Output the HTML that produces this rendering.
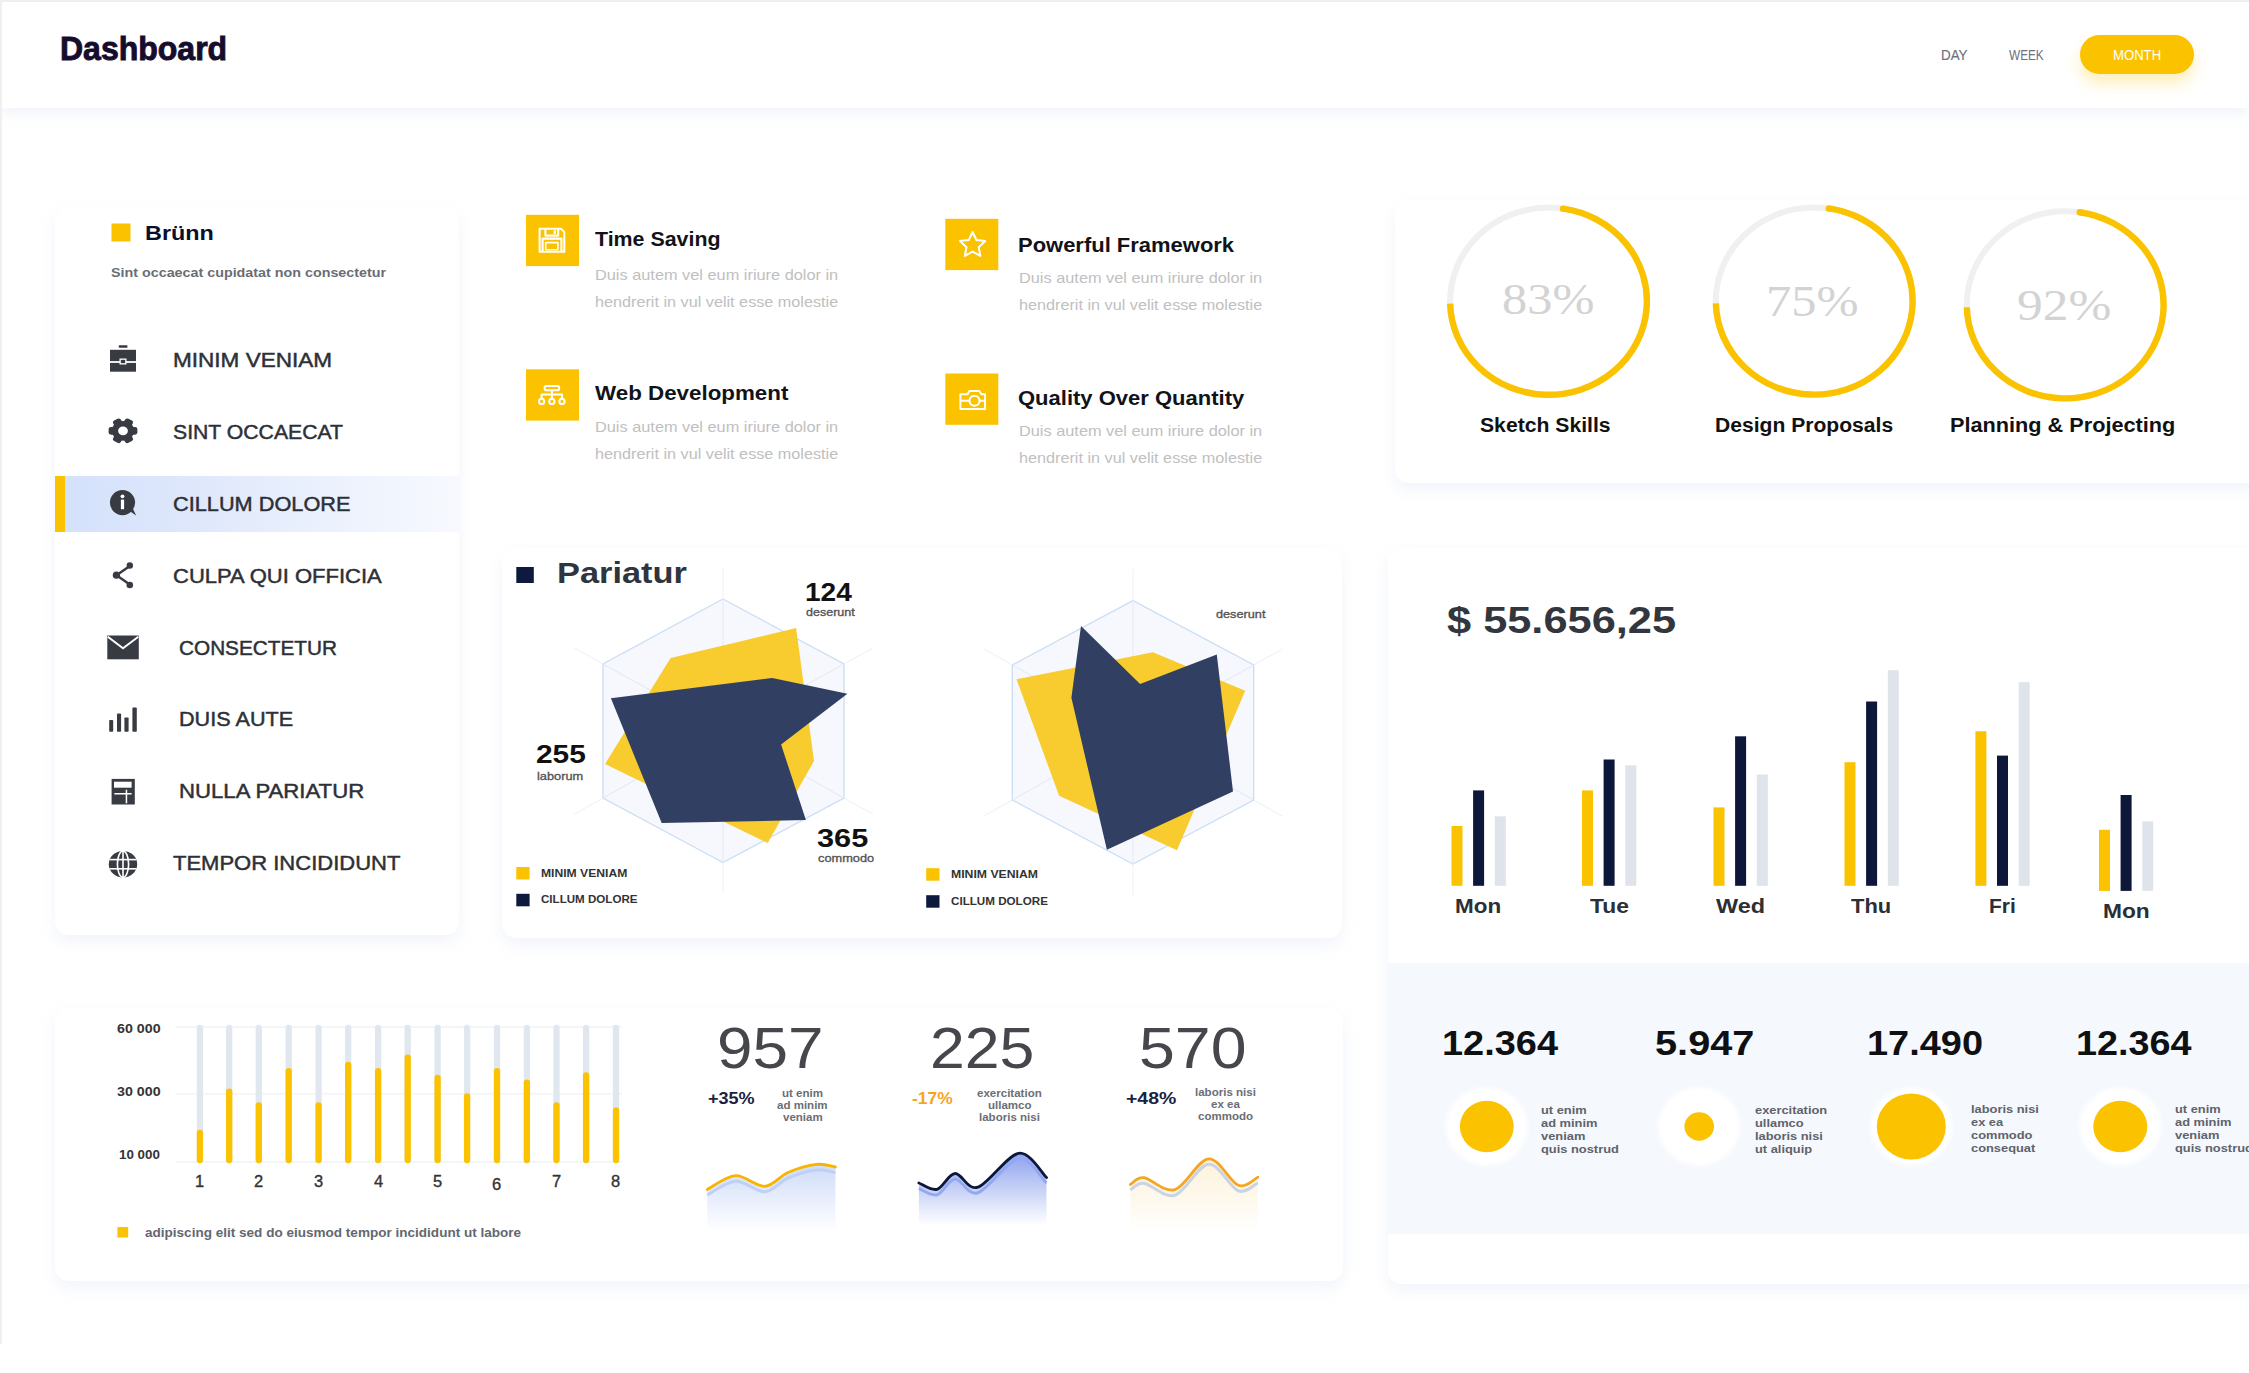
<!DOCTYPE html>
<html><head><meta charset="utf-8"><title>Dashboard</title>
<style>
html,body{margin:0;padding:0;background:#fff;width:2249px;height:1373px;overflow:hidden;position:relative}
.t{position:absolute;white-space:nowrap;line-height:1.15;transform-origin:0 0}
.card{position:absolute;background:#fff}
</style></head><body>

<div style="position:absolute;left:0;top:0;width:2249px;height:108px;background:#fff;box-shadow:0 5px 12px rgba(215,220,238,0.35)"></div>
<div style="position:absolute;left:0;top:0;width:2249px;height:2px;background:#eeeeee"></div>
<div style="position:absolute;left:0;top:0;width:2px;height:1344px;background:#f0f0f0"></div>
<div style="position:absolute;left:2080px;top:34.5px;width:114px;height:39px;border-radius:20px;background:#fbc200;box-shadow:0 9px 16px rgba(251,194,0,0.28)"></div>
<div class="card" style="left:55px;top:207px;width:404px;height:728px;border-radius:14px;box-shadow:0 7px 16px rgba(205,212,240,0.26)"></div>
<div style="position:absolute;left:55px;top:476px;width:405px;height:56px;background:linear-gradient(90deg,#d3e1fb 0%,#dfe8fb 35%,#eef3fd 75%,#f7f9fe 100%)"></div>
<div style="position:absolute;left:55px;top:476px;width:10px;height:56px;background:#fbc200"></div>
<div class="card" style="left:1395px;top:200px;width:900px;height:283px;border-radius:14px;box-shadow:0 7px 16px rgba(205,212,240,0.26)"></div>
<div class="card" style="left:502px;top:548px;width:840px;height:390px;border-radius:14px;box-shadow:0 7px 16px rgba(205,212,240,0.26)"></div>
<div class="card" style="left:1388px;top:548px;width:900px;height:736px;border-radius:14px;box-shadow:0 7px 16px rgba(205,212,240,0.26);overflow:hidden"><div style="position:absolute;left:0;top:415px;width:900px;height:271px;background:#f5f8fd"></div></div>
<div class="card" style="left:55px;top:1008px;width:1288px;height:273px;border-radius:14px;box-shadow:0 7px 16px rgba(205,212,240,0.26)"></div>

<svg width="2249" height="1373" style="position:absolute;left:0;top:0"><defs><linearGradient id="g1" x1="0" y1="0" x2="0" y2="1"><stop offset="0" stop-color="#c9d8f8" stop-opacity="0.9"/><stop offset="1" stop-color="#c9d8f8" stop-opacity="0"/></linearGradient><linearGradient id="g2" x1="0" y1="0" x2="0" y2="1"><stop offset="0" stop-color="#8ea2ee" stop-opacity="1"/><stop offset="1" stop-color="#8ea2ee" stop-opacity="0"/></linearGradient><linearGradient id="g3" x1="0" y1="0" x2="0" y2="1"><stop offset="0" stop-color="#fdf0d5" stop-opacity="0.9"/><stop offset="1" stop-color="#fdf0d5" stop-opacity="0"/></linearGradient><radialGradient id="halo"><stop offset="0.86" stop-color="#ffffff" stop-opacity="1"/><stop offset="1" stop-color="#ffffff" stop-opacity="0"/></radialGradient></defs><rect x="111.5" y="223.5" width="19" height="18" fill="#fbc200"/><g fill="#383b42"><rect x="118.7" y="345.2" width="8.8" height="2.6" rx="0.8"/><rect x="110" y="349.8" width="26" height="11.3"/><rect x="110" y="362.9" width="26" height="8.8"/><rect x="119.5" y="358.5" width="7" height="6" fill="#fff"/><rect x="120.8" y="359.8" width="4.4" height="3.4"/></g><g transform="translate(123 430.8) scale(1.09 0.97)"><g fill="#383b42"><circle cx="0" cy="0" r="10.2"/><rect x="-4" y="-13.2" width="8" height="26.4" rx="2.2" transform="rotate(30)"/><rect x="-4" y="-13.2" width="8" height="26.4" rx="2.2" transform="rotate(90)"/><rect x="-4" y="-13.2" width="8" height="26.4" rx="2.2" transform="rotate(150)"/></g><circle cx="0" cy="0" r="4.5" fill="#fff"/></g><g fill="#383b42"><circle cx="122.5" cy="502.6" r="12.6"/><path d="M128 510 L136.2 515.4 L131 505 Z"/></g><g fill="#fff"><circle cx="122.5" cy="496.3" r="1.9"/><rect x="120.9" y="499.6" width="3.2" height="9.6"/></g><g fill="#383b42" stroke="#383b42" stroke-width="2.4"><line x1="116.5" y1="575.2" x2="129.8" y2="566"/><line x1="116.5" y1="575.2" x2="129.8" y2="584.6"/><circle cx="129.8" cy="565.5" r="3.2" stroke="none"/><circle cx="116.4" cy="575.2" r="3.6" stroke="none"/><circle cx="129.8" cy="585" r="3.3" stroke="none"/></g><rect x="107.3" y="635.5" width="31.5" height="23.8" fill="#383b42"/><path d="M107.8 636.8 L123 648.2 L138.3 636.8" fill="none" stroke="#fff" stroke-width="2"/><g fill="#383b42"><rect x="109.2" y="720" width="4" height="11.8" rx="0.8"/><rect x="117" y="713.6" width="4.1" height="18.2" rx="0.8"/><rect x="124.4" y="717.5" width="4.2" height="14.3" rx="0.8"/><rect x="132.4" y="707.6" width="4.4" height="24.2" rx="0.8"/></g><rect x="111.6" y="778.9" width="23.2" height="25.6" fill="#383b42"/><rect x="114" y="781.7" width="17.6" height="6" fill="#fff"/><rect x="114.4" y="793" width="17.2" height="1.5" fill="#fff"/><rect x="125.7" y="789.7" width="1.5" height="13.6" fill="#fff"/><ellipse cx="123" cy="864.2" rx="14.2" ry="13.2" fill="#383b42"/><g fill="none" stroke="#fff" stroke-width="1.6"><ellipse cx="123" cy="864.2" rx="5.6" ry="13.2"/><line x1="123" y1="851" x2="123" y2="877.4"/><line x1="109.5" y1="859.6" x2="136.5" y2="859.6"/><line x1="109.5" y1="868.8" x2="136.5" y2="868.8"/></g><rect x="526" y="214.8" width="53" height="51.3" fill="#fbc200"/><rect x="945.3" y="218.8" width="53" height="51.3" fill="#fbc200"/><rect x="526" y="369.3" width="53" height="51.3" fill="#fbc200"/><rect x="945.3" y="373.5" width="53" height="51.3" fill="#fbc200"/><g fill="none" stroke="#ffffff" stroke-width="2.1" stroke-linejoin="round"><path d="M539.6 228.8 H561 L564.3 232.1 V251.8 H539.6 Z"/><path d="M542.6 251.6 V238.6 H561.4 V251.6"/><rect x="545.7" y="242.6" width="12.2" height="7.2" stroke-width="1.6"/><path d="M545.4 229 V235.6 H558.2 V229"/></g><rect x="553.6" y="230.4" width="2.4" height="3.6" fill="#ffffff"/><g fill="none" stroke="#ffffff" stroke-width="2" stroke-linejoin="round"><rect x="544.6" y="386" width="14.6" height="4.2" rx="1.8"/><path d="M551.9 390.2 V394.6 M541.6 398.4 V394.6 H562 V398.4 M551.9 394.6 V398.4"/><circle cx="541.6" cy="401.4" r="2.6"/><circle cx="551.9" cy="401.4" r="2.6"/><circle cx="562" cy="401.4" r="2.6"/></g><polygon points="972.6,232.0 976.4,240.0 985.2,241.1 978.7,247.2 980.4,255.9 972.6,251.6 964.8,255.9 966.5,247.2 960.0,241.1 968.8,240.0" fill="none" stroke="#ffffff" stroke-width="2" stroke-linejoin="round"/><g fill="none" stroke="#ffffff" stroke-width="2" stroke-linejoin="round"><path d="M960.4 394.2 H967.6 L969.4 391 H979.4 L981.4 394.2 H985 V409 H960.4 Z"/><circle cx="974.5" cy="400.8" r="5"/><path d="M960.4 400.8 H969.5 M979.5 400.8 H985"/></g><ellipse cx="1548.5" cy="301.2" rx="98.4" ry="93.6" fill="none" stroke="#f0f0f0" stroke-width="6"/><path d="M1563.04 208.63 A98.4 93.6 0 1 1 1450.13 303.65" fill="none" stroke="#fbc200" stroke-width="6.4" stroke-linecap="butt"/><circle cx="1563.04" cy="208.63" r="3.2" fill="#fbc200"/><ellipse cx="1814.2" cy="301" rx="98.4" ry="93.6" fill="none" stroke="#f0f0f0" stroke-width="6"/><path d="M1828.74 208.43 A98.4 93.6 0 1 1 1715.83 303.45" fill="none" stroke="#fbc200" stroke-width="6.4" stroke-linecap="butt"/><circle cx="1828.74" cy="208.43" r="3.2" fill="#fbc200"/><ellipse cx="2065.2" cy="304.8" rx="98.4" ry="93.6" fill="none" stroke="#f0f0f0" stroke-width="6"/><path d="M2079.74 212.23 A98.4 93.6 0 1 1 1966.83 307.25" fill="none" stroke="#fbc200" stroke-width="6.4" stroke-linecap="butt"/><circle cx="2079.74" cy="212.23" r="3.2" fill="#fbc200"/><g stroke="#f0f3f8" stroke-width="1.2"><line x1="723" y1="730.6" x2="723.0" y2="567.4"/><line x1="723" y1="730.6" x2="873.0" y2="648.0"/><line x1="723" y1="730.6" x2="873.0" y2="814.2"/><line x1="723" y1="730.6" x2="723.0" y2="894.2"/><line x1="723" y1="730.6" x2="574.2" y2="814.2"/><line x1="723" y1="730.6" x2="574.2" y2="648.0"/></g><polygon points="723,599 844,664 844,798 723,862.5 603,798 603,664" fill="#f6f8fd" stroke="#cddff6" stroke-width="1.4"/><polygon points="723,658.22 789.55,693.97 789.55,767.6700000000001 723,803.145 657.0,767.6700000000001 657.0,693.97" fill="none" stroke="#dce8f8" stroke-width="1.2"/><g stroke="#e3ebf7" stroke-width="1.1"><line x1="723" y1="730.6" x2="723" y2="599"/><line x1="723" y1="730.6" x2="844" y2="664"/><line x1="723" y1="730.6" x2="844" y2="798"/><line x1="723" y1="730.6" x2="723" y2="862.5"/><line x1="723" y1="730.6" x2="603" y2="798"/><line x1="723" y1="730.6" x2="603" y2="664"/></g><polygon points="670.6,657.9 796.1,628.1 814,761 767.7,843.1 605,764" fill="#f8cb2e"/><polygon points="610.9,698.3 772.2,677.9 847.4,693.8 781.1,744.5 805.9,820.1 661.7,823.1" fill="#313f63"/><rect x="516.3" y="567" width="17.5" height="16" fill="#0e1a3d"/><g stroke="#f0f3f8" stroke-width="1.2"><line x1="1133" y1="732.3" x2="1133.0" y2="569.0"/><line x1="1133" y1="732.3" x2="1282.7" y2="648.8"/><line x1="1133" y1="732.3" x2="1282.7" y2="816.2"/><line x1="1133" y1="732.3" x2="1133.0" y2="895.6"/><line x1="1133" y1="732.3" x2="983.3" y2="816.2"/><line x1="1133" y1="732.3" x2="983.3" y2="648.8"/></g><polygon points="1133,600.6 1253.7,665 1253.7,800 1133,864 1012.3,800 1012.3,665" fill="#f6f8fd" stroke="#cddff6" stroke-width="1.4"/><polygon points="1133,659.865 1199.385,695.285 1199.385,769.535 1133,804.735 1066.615,769.535 1066.615,695.285" fill="none" stroke="#dce8f8" stroke-width="1.2"/><g stroke="#e3ebf7" stroke-width="1.1"><line x1="1133" y1="732.3" x2="1133" y2="600.6"/><line x1="1133" y1="732.3" x2="1253.7" y2="665"/><line x1="1133" y1="732.3" x2="1253.7" y2="800"/><line x1="1133" y1="732.3" x2="1133" y2="864"/><line x1="1133" y1="732.3" x2="1012.3" y2="800"/><line x1="1133" y1="732.3" x2="1012.3" y2="665"/></g><polygon points="1016.5,679.3 1152.9,652.3 1245.2,690.7 1177,850.3 1059.1,795.8" fill="#f8cb2e"/><polygon points="1081,625.9 1140.1,684.1 1216.8,654.6 1233,791.5 1106.9,849.8 1071.4,697.8" fill="#313f63"/><rect x="516.3" y="867" width="13.3" height="12.5" fill="#fbc200"/><rect x="516.3" y="893.8" width="13.3" height="12.5" fill="#0e1a3d"/><rect x="926.2" y="868.2" width="13.3" height="12.5" fill="#fbc200"/><rect x="926.2" y="895.2" width="13.3" height="12.5" fill="#0e1a3d"/><rect x="1451.5" y="826" width="11" height="59.8" fill="#fbc200"/><rect x="1473.1" y="790.4" width="11" height="95.4" fill="#0d1739"/><rect x="1494.8" y="816.3" width="11" height="69.5" fill="#dfe4eb"/><rect x="1582" y="790.4" width="11" height="95.4" fill="#fbc200"/><rect x="1603.6" y="759.5" width="11" height="126.3" fill="#0d1739"/><rect x="1625.3" y="765.3" width="11" height="120.5" fill="#dfe4eb"/><rect x="1713.5" y="807.4" width="11" height="78.4" fill="#fbc200"/><rect x="1735.1" y="736.3" width="11" height="149.5" fill="#0d1739"/><rect x="1756.8" y="774.5" width="11" height="111.3" fill="#dfe4eb"/><rect x="1844.5" y="762.2" width="11" height="123.6" fill="#fbc200"/><rect x="1866.1" y="701.5" width="11" height="184.3" fill="#0d1739"/><rect x="1887.8" y="670.2" width="11" height="215.6" fill="#dfe4eb"/><rect x="1975.4" y="731.3" width="11" height="154.5" fill="#fbc200"/><rect x="1997.0" y="755.6" width="11" height="130.2" fill="#0d1739"/><rect x="2018.7" y="682.2" width="11" height="203.6" fill="#dfe4eb"/><rect x="2099" y="829.8" width="11" height="61.1" fill="#fbc200"/><rect x="2120.6" y="795" width="11" height="95.9" fill="#0d1739"/><rect x="2142.3" y="821.3" width="11" height="69.6" fill="#dfe4eb"/><g stroke="#eef2f8" stroke-width="1.3"><line x1="176" y1="1027" x2="622" y2="1027"/><line x1="176" y1="1093.8" x2="622" y2="1093.8"/><line x1="176" y1="1162" x2="622" y2="1162"/></g><line x1="199.9" y1="1028" x2="199.9" y2="1160" stroke="#e1e7ee" stroke-width="6.3" stroke-linecap="round"/><line x1="199.9" y1="1133" x2="199.9" y2="1160" stroke="#fbc200" stroke-width="6.3" stroke-linecap="round"/><line x1="229.2" y1="1028" x2="229.2" y2="1160" stroke="#e1e7ee" stroke-width="6.3" stroke-linecap="round"/><line x1="229.2" y1="1091.7" x2="229.2" y2="1160" stroke="#fbc200" stroke-width="6.3" stroke-linecap="round"/><line x1="258.8" y1="1028" x2="258.8" y2="1160" stroke="#e1e7ee" stroke-width="6.3" stroke-linecap="round"/><line x1="258.8" y1="1105.4" x2="258.8" y2="1160" stroke="#fbc200" stroke-width="6.3" stroke-linecap="round"/><line x1="288.7" y1="1028" x2="288.7" y2="1160" stroke="#e1e7ee" stroke-width="6.3" stroke-linecap="round"/><line x1="288.7" y1="1071.2" x2="288.7" y2="1160" stroke="#fbc200" stroke-width="6.3" stroke-linecap="round"/><line x1="318.6" y1="1028" x2="318.6" y2="1160" stroke="#e1e7ee" stroke-width="6.3" stroke-linecap="round"/><line x1="318.6" y1="1105.4" x2="318.6" y2="1160" stroke="#fbc200" stroke-width="6.3" stroke-linecap="round"/><line x1="348.2" y1="1028" x2="348.2" y2="1160" stroke="#e1e7ee" stroke-width="6.3" stroke-linecap="round"/><line x1="348.2" y1="1065" x2="348.2" y2="1160" stroke="#fbc200" stroke-width="6.3" stroke-linecap="round"/><line x1="378.1" y1="1028" x2="378.1" y2="1160" stroke="#e1e7ee" stroke-width="6.3" stroke-linecap="round"/><line x1="378.1" y1="1071.2" x2="378.1" y2="1160" stroke="#fbc200" stroke-width="6.3" stroke-linecap="round"/><line x1="407.7" y1="1028" x2="407.7" y2="1160" stroke="#e1e7ee" stroke-width="6.3" stroke-linecap="round"/><line x1="407.7" y1="1057.6" x2="407.7" y2="1160" stroke="#fbc200" stroke-width="6.3" stroke-linecap="round"/><line x1="437.6" y1="1028" x2="437.6" y2="1160" stroke="#e1e7ee" stroke-width="6.3" stroke-linecap="round"/><line x1="437.6" y1="1077.8" x2="437.6" y2="1160" stroke="#fbc200" stroke-width="6.3" stroke-linecap="round"/><line x1="467.1" y1="1028" x2="467.1" y2="1160" stroke="#e1e7ee" stroke-width="6.3" stroke-linecap="round"/><line x1="467.1" y1="1096.3" x2="467.1" y2="1160" stroke="#fbc200" stroke-width="6.3" stroke-linecap="round"/><line x1="497" y1="1028" x2="497" y2="1160" stroke="#e1e7ee" stroke-width="6.3" stroke-linecap="round"/><line x1="497" y1="1071.2" x2="497" y2="1160" stroke="#fbc200" stroke-width="6.3" stroke-linecap="round"/><line x1="526.9" y1="1028" x2="526.9" y2="1160" stroke="#e1e7ee" stroke-width="6.3" stroke-linecap="round"/><line x1="526.9" y1="1082.6" x2="526.9" y2="1160" stroke="#fbc200" stroke-width="6.3" stroke-linecap="round"/><line x1="556.5" y1="1028" x2="556.5" y2="1160" stroke="#e1e7ee" stroke-width="6.3" stroke-linecap="round"/><line x1="556.5" y1="1105.4" x2="556.5" y2="1160" stroke="#fbc200" stroke-width="6.3" stroke-linecap="round"/><line x1="586.1" y1="1028" x2="586.1" y2="1160" stroke="#e1e7ee" stroke-width="6.3" stroke-linecap="round"/><line x1="586.1" y1="1075.5" x2="586.1" y2="1160" stroke="#fbc200" stroke-width="6.3" stroke-linecap="round"/><line x1="616" y1="1028" x2="616" y2="1160" stroke="#e1e7ee" stroke-width="6.3" stroke-linecap="round"/><line x1="616" y1="1110.5" x2="616" y2="1160" stroke="#fbc200" stroke-width="6.3" stroke-linecap="round"/><rect x="117.4" y="1227" width="10.8" height="10.5" fill="#fbc200"/><path d="M707.2 1189.5 C711.9 1187.2 726.0 1176.2 735.6 1175.7 C745.2 1175.2 756.1 1186.8 764.8 1186.3 C773.5 1185.8 779.4 1176.2 788.0 1172.5 C796.6 1168.8 808.8 1165.3 816.7 1164.4 C824.6 1163.5 832.3 1166.6 835.4 1167.0 L835.4 1232 L707.2 1232 Z" fill="url(#g1)"/><path d="M707.2 1195.0 C711.9 1192.7 726.0 1181.7 735.6 1181.2 C745.2 1180.7 756.1 1192.3 764.8 1191.8 C773.5 1191.3 779.4 1181.7 788.0 1178.0 C796.6 1174.3 808.8 1170.8 816.7 1169.9 C824.6 1169.0 832.3 1172.1 835.4 1172.5" fill="none" stroke="#bfd0f5" stroke-width="3"/><path d="M707.2 1189.5 C711.9 1187.2 726.0 1176.2 735.6 1175.7 C745.2 1175.2 756.1 1186.8 764.8 1186.3 C773.5 1185.8 779.4 1176.2 788.0 1172.5 C796.6 1168.8 808.8 1165.3 816.7 1164.4 C824.6 1163.5 832.3 1166.6 835.4 1167.0" fill="none" stroke="#f7b500" stroke-width="2.8" stroke-linecap="round"/><path d="M918.9 1183.0 C921.9 1184.0 931.0 1190.9 937.0 1189.3 C943.0 1187.7 948.4 1173.8 955.2 1173.5 C962.0 1173.2 967.3 1190.6 977.9 1187.2 C988.5 1183.8 1007.3 1154.9 1018.7 1153.3 C1030.1 1151.7 1041.9 1173.5 1046.5 1177.5 L1046.5 1225 L918.9 1225 Z" fill="url(#g2)"/><path d="M918.9 1188.5 C921.9 1189.5 931.0 1196.4 937.0 1194.8 C943.0 1193.2 948.4 1179.3 955.2 1179.0 C962.0 1178.7 967.3 1196.1 977.9 1192.7 C988.5 1189.3 1007.3 1160.4 1018.7 1158.8 C1030.1 1157.2 1041.9 1179.0 1046.5 1183.0" fill="none" stroke="#93a8f3" stroke-width="3"/><path d="M918.9 1183.0 C921.9 1184.0 931.0 1190.9 937.0 1189.3 C943.0 1187.7 948.4 1173.8 955.2 1173.5 C962.0 1173.2 967.3 1190.6 977.9 1187.2 C988.5 1183.8 1007.3 1154.9 1018.7 1153.3 C1030.1 1151.7 1041.9 1173.5 1046.5 1177.5" fill="none" stroke="#0d1739" stroke-width="2.8" stroke-linecap="round"/><path d="M1130.4 1184.5 C1132.7 1183.4 1136.6 1176.8 1144.0 1177.7 C1151.4 1178.6 1164.1 1192.9 1174.9 1189.7 C1185.7 1186.5 1198.0 1159.5 1208.6 1158.8 C1219.1 1158.1 1230.0 1182.2 1238.2 1185.3 C1246.4 1188.4 1254.5 1178.6 1257.8 1177.3 L1257.8 1232 L1130.4 1232 Z" fill="url(#g3)"/><path d="M1130.4 1190.0 C1132.7 1188.9 1136.6 1182.3 1144.0 1183.2 C1151.4 1184.1 1164.1 1198.4 1174.9 1195.2 C1185.7 1192.0 1198.0 1165.0 1208.6 1164.3 C1219.1 1163.6 1230.0 1187.7 1238.2 1190.8 C1246.4 1193.9 1254.5 1184.1 1257.8 1182.8" fill="none" stroke="#c9d3e6" stroke-width="3"/><path d="M1130.4 1184.5 C1132.7 1183.4 1136.6 1176.8 1144.0 1177.7 C1151.4 1178.6 1164.1 1192.9 1174.9 1189.7 C1185.7 1186.5 1198.0 1159.5 1208.6 1158.8 C1219.1 1158.1 1230.0 1182.2 1238.2 1185.3 C1246.4 1188.4 1254.5 1178.6 1257.8 1177.3" fill="none" stroke="#f5a51f" stroke-width="2.8" stroke-linecap="round"/><ellipse cx="1486.8" cy="1126.5" rx="44" ry="42" fill="url(#halo)"/><ellipse cx="1486.8" cy="1126.5" rx="26.9" ry="25.7" fill="#fbc200"/><ellipse cx="1699.2" cy="1126.5" rx="44" ry="42" fill="url(#halo)"/><ellipse cx="1699.2" cy="1126.5" rx="14.8" ry="14.2" fill="#fbc200"/><ellipse cx="1911.3" cy="1126.5" rx="44" ry="42" fill="url(#halo)"/><ellipse cx="1911.3" cy="1126.5" rx="34.5" ry="33" fill="#fbc200"/><ellipse cx="2120.3" cy="1126.5" rx="44" ry="42" fill="url(#halo)"/><ellipse cx="2120.3" cy="1126.5" rx="27" ry="25.8" fill="#fbc200"/></svg>
<div class="t" style="left:60.2px;top:30.0px;font-family:'Liberation Sans', sans-serif;font-size:33.43px;font-weight:700;color:#150c2e;transform:scaleX(0.9576);-webkit-text-stroke:0.9px #150c2e">Dashboard</div><div class="t" style="left:1940.8px;top:46.5px;font-family:'Liberation Sans', sans-serif;font-size:13.95px;font-weight:400;color:#6d7080;transform:scaleX(0.9599);-webkit-text-stroke:0.15px #6d7080">DAY</div><div class="t" style="left:2008.5px;top:46.5px;font-family:'Liberation Sans', sans-serif;font-size:13.95px;font-weight:400;color:#6d7080;transform:scaleX(0.8458)">WEEK</div><div class="t" style="left:2112.9px;top:46.5px;font-family:'Liberation Sans', sans-serif;font-size:13.95px;font-weight:400;color:#ffffff;transform:scaleX(0.9414)">MONTH</div><div class="t" style="left:144.7px;top:221.3px;font-family:'Liberation Sans', sans-serif;font-size:20.93px;font-weight:700;color:#0a0f2c;transform:scaleX(1.1182)">Brünn</div><div class="t" style="left:110.9px;top:266.2px;font-family:'Liberation Sans', sans-serif;font-size:12.94px;font-weight:700;color:#6a6d75;transform:scaleX(1.1057)">Sint occaecat cupidatat non consectetur</div><div class="t" style="left:173.2px;top:348.5px;font-family:'Liberation Sans', sans-serif;font-size:19.62px;font-weight:400;color:#2d3036;transform:scaleX(1.1497);-webkit-text-stroke:0.45px #2d3036">MINIM VENIAM</div><div class="t" style="left:173.0px;top:420.7px;font-family:'Liberation Sans', sans-serif;font-size:19.62px;font-weight:400;color:#2d3036;transform:scaleX(1.0814);-webkit-text-stroke:0.45px #2d3036">SINT OCCAECAT</div><div class="t" style="left:173.2px;top:492.6px;font-family:'Liberation Sans', sans-serif;font-size:19.62px;font-weight:400;color:#2d3036;transform:scaleX(1.1079);-webkit-text-stroke:0.45px #2d3036">CILLUM DOLORE</div><div class="t" style="left:173.1px;top:564.6px;font-family:'Liberation Sans', sans-serif;font-size:19.62px;font-weight:400;color:#2d3036;transform:scaleX(1.1227);-webkit-text-stroke:0.45px #2d3036">CULPA QUI OFFICIA</div><div class="t" style="left:179.0px;top:636.5px;font-family:'Liberation Sans', sans-serif;font-size:19.62px;font-weight:400;color:#2d3036;transform:scaleX(1.0583);-webkit-text-stroke:0.45px #2d3036">CONSECTETUR</div><div class="t" style="left:178.9px;top:707.8px;font-family:'Liberation Sans', sans-serif;font-size:19.62px;font-weight:400;color:#2d3036;transform:scaleX(1.1029);-webkit-text-stroke:0.45px #2d3036">DUIS AUTE</div><div class="t" style="left:178.9px;top:780.4px;font-family:'Liberation Sans', sans-serif;font-size:19.62px;font-weight:400;color:#2d3036;transform:scaleX(1.1303);-webkit-text-stroke:0.45px #2d3036">NULLA PARIATUR</div><div class="t" style="left:172.8px;top:852.3px;font-family:'Liberation Sans', sans-serif;font-size:19.62px;font-weight:400;color:#2d3036;transform:scaleX(1.1221);-webkit-text-stroke:0.45px #2d3036">TEMPOR INCIDIDUNT</div><div class="t" style="left:595.1px;top:228.3px;font-family:'Liberation Sans', sans-serif;font-size:19.62px;font-weight:700;color:#111318;transform:scaleX(1.0903)">Time Saving</div><div class="t" style="left:595.3px;top:265.6px;font-family:'Liberation Sans', sans-serif;font-size:15.12px;font-weight:400;color:#c0c0c0;transform:scaleX(1.0806)">Duis autem vel eum iriure dolor in</div><div class="t" style="left:595.4px;top:292.5px;font-family:'Liberation Sans', sans-serif;font-size:15.12px;font-weight:400;color:#c0c0c0;transform:scaleX(1.0726)">hendrerit in vul velit esse molestie</div><div class="t" style="left:595.1px;top:381.8px;font-family:'Liberation Sans', sans-serif;font-size:19.62px;font-weight:700;color:#111318;transform:scaleX(1.1400)">Web Development</div><div class="t" style="left:595.3px;top:418.2px;font-family:'Liberation Sans', sans-serif;font-size:15.12px;font-weight:400;color:#c0c0c0;transform:scaleX(1.0806)">Duis autem vel eum iriure dolor in</div><div class="t" style="left:595.4px;top:445.1px;font-family:'Liberation Sans', sans-serif;font-size:15.12px;font-weight:400;color:#c0c0c0;transform:scaleX(1.0726)">hendrerit in vul velit esse molestie</div><div class="t" style="left:1018.4px;top:233.9px;font-family:'Liberation Sans', sans-serif;font-size:19.62px;font-weight:700;color:#111318;transform:scaleX(1.1202)">Powerful Framework</div><div class="t" style="left:1018.6px;top:269.3px;font-family:'Liberation Sans', sans-serif;font-size:15.12px;font-weight:400;color:#c0c0c0;transform:scaleX(1.0806)">Duis autem vel eum iriure dolor in</div><div class="t" style="left:1018.7px;top:296.2px;font-family:'Liberation Sans', sans-serif;font-size:15.12px;font-weight:400;color:#c0c0c0;transform:scaleX(1.0726)">hendrerit in vul velit esse molestie</div><div class="t" style="left:1018.4px;top:387.4px;font-family:'Liberation Sans', sans-serif;font-size:19.62px;font-weight:700;color:#111318;transform:scaleX(1.1224)">Quality Over Quantity</div><div class="t" style="left:1018.6px;top:421.6px;font-family:'Liberation Sans', sans-serif;font-size:15.12px;font-weight:400;color:#c0c0c0;transform:scaleX(1.0806)">Duis autem vel eum iriure dolor in</div><div class="t" style="left:1018.7px;top:448.5px;font-family:'Liberation Sans', sans-serif;font-size:15.12px;font-weight:400;color:#c0c0c0;transform:scaleX(1.0726)">hendrerit in vul velit esse molestie</div><div class="t" style="left:1501.6px;top:275.0px;font-family:'Liberation Serif', serif;font-size:44.00px;font-weight:400;color:#d3d3d3;transform:scaleX(1.1459)">83%</div><div class="t" style="left:1766.0px;top:277.0px;font-family:'Liberation Serif', serif;font-size:44.00px;font-weight:400;color:#d3d3d3;transform:scaleX(1.1471)">75%</div><div class="t" style="left:2017.4px;top:281.0px;font-family:'Liberation Serif', serif;font-size:44.00px;font-weight:400;color:#d3d3d3;transform:scaleX(1.1694)">92%</div><div class="t" style="left:1480.2px;top:413.8px;font-family:'Liberation Sans', sans-serif;font-size:19.48px;font-weight:700;color:#111111;transform:scaleX(1.0869)">Sketch Skills</div><div class="t" style="left:1714.6px;top:413.8px;font-family:'Liberation Sans', sans-serif;font-size:19.48px;font-weight:700;color:#111111;transform:scaleX(1.0833)">Design Proposals</div><div class="t" style="left:1950.1px;top:413.8px;font-family:'Liberation Sans', sans-serif;font-size:19.48px;font-weight:700;color:#111111;transform:scaleX(1.1141)">Planning &amp; Projecting</div><div class="t" style="left:556.6px;top:555.5px;font-family:'Liberation Sans', sans-serif;font-size:29.36px;font-weight:700;color:#30343c;transform:scaleX(1.1710)">Pariatur</div><div class="t" style="left:805.4px;top:578.2px;font-family:'Liberation Sans', sans-serif;font-size:25.64px;font-weight:700;color:#111111;transform:scaleX(1.0955)">124</div><div class="t" style="left:806.0px;top:606.0px;font-family:'Liberation Sans', sans-serif;font-size:11.50px;font-weight:400;color:#555555;transform:scaleX(1.0883);-webkit-text-stroke:0.35px #555555">deserunt</div><div class="t" style="left:536.0px;top:740.3px;font-family:'Liberation Sans', sans-serif;font-size:25.64px;font-weight:700;color:#111111;transform:scaleX(1.1657)">255</div><div class="t" style="left:537.3px;top:769.5px;font-family:'Liberation Sans', sans-serif;font-size:11.50px;font-weight:400;color:#555555;transform:scaleX(1.1097);-webkit-text-stroke:0.35px #555555">laborum</div><div class="t" style="left:817.3px;top:824.0px;font-family:'Liberation Sans', sans-serif;font-size:25.64px;font-weight:700;color:#111111;transform:scaleX(1.1984)">365</div><div class="t" style="left:818.0px;top:851.5px;font-family:'Liberation Sans', sans-serif;font-size:11.50px;font-weight:400;color:#555555;transform:scaleX(1.1113);-webkit-text-stroke:0.35px #555555">commodo</div><div class="t" style="left:1215.5px;top:608.0px;font-family:'Liberation Sans', sans-serif;font-size:11.50px;font-weight:400;color:#555555;transform:scaleX(1.1040);-webkit-text-stroke:0.35px #555555">deserunt</div><div class="t" style="left:540.9px;top:866.5px;font-family:'Liberation Sans', sans-serif;font-size:11.19px;font-weight:700;color:#333333;transform:scaleX(1.0846)">MINIM VENIAM</div><div class="t" style="left:540.9px;top:893.4px;font-family:'Liberation Sans', sans-serif;font-size:11.19px;font-weight:700;color:#333333;transform:scaleX(1.0350)">CILLUM DOLORE</div><div class="t" style="left:950.7px;top:868.4px;font-family:'Liberation Sans', sans-serif;font-size:11.19px;font-weight:700;color:#333333;transform:scaleX(1.0934)">MINIM VENIAM</div><div class="t" style="left:950.7px;top:895.2px;font-family:'Liberation Sans', sans-serif;font-size:11.19px;font-weight:700;color:#333333;transform:scaleX(1.0393)">CILLUM DOLORE</div><div class="t" style="left:1447.1px;top:598.7px;font-family:'Liberation Sans', sans-serif;font-size:37.79px;font-weight:700;color:#33373d;transform:scaleX(1.1474)">$ 55.656,25</div><div class="t" style="left:1455.1px;top:894.6px;font-family:'Liberation Sans', sans-serif;font-size:19.48px;font-weight:700;color:#2c2f35;transform:scaleX(1.1535)">Mon</div><div class="t" style="left:1589.7px;top:894.6px;font-family:'Liberation Sans', sans-serif;font-size:19.48px;font-weight:700;color:#2c2f35;transform:scaleX(1.1744)">Tue</div><div class="t" style="left:1716.1px;top:894.6px;font-family:'Liberation Sans', sans-serif;font-size:19.48px;font-weight:700;color:#2c2f35;transform:scaleX(1.2039)">Wed</div><div class="t" style="left:1851.3px;top:894.6px;font-family:'Liberation Sans', sans-serif;font-size:19.48px;font-weight:700;color:#2c2f35;transform:scaleX(1.1253)">Thu</div><div class="t" style="left:1988.9px;top:894.6px;font-family:'Liberation Sans', sans-serif;font-size:19.48px;font-weight:700;color:#2c2f35;transform:scaleX(1.0750)">Fri</div><div class="t" style="left:2102.8px;top:899.7px;font-family:'Liberation Sans', sans-serif;font-size:19.48px;font-weight:700;color:#2c2f35;transform:scaleX(1.1685)">Mon</div><div class="t" style="left:116.8px;top:1022.8px;font-family:'Liberation Sans', sans-serif;font-size:12.06px;font-weight:700;color:#333333;transform:scaleX(1.1819)">60 000</div><div class="t" style="left:116.8px;top:1086.2px;font-family:'Liberation Sans', sans-serif;font-size:12.06px;font-weight:700;color:#333333;transform:scaleX(1.1819)">30 000</div><div class="t" style="left:118.5px;top:1149.4px;font-family:'Liberation Sans', sans-serif;font-size:12.06px;font-weight:700;color:#333333;transform:scaleX(1.1114)">10 000</div><div class="t" style="left:195.3px;top:1173.2px;font-family:'Liberation Sans', sans-serif;font-size:15.70px;font-weight:400;color:#333333;transform:scaleX(1.0500);-webkit-text-stroke:0.35px #333333">1</div><div class="t" style="left:254.2px;top:1173.2px;font-family:'Liberation Sans', sans-serif;font-size:15.70px;font-weight:400;color:#333333;transform:scaleX(1.0500);-webkit-text-stroke:0.35px #333333">2</div><div class="t" style="left:314.0px;top:1173.2px;font-family:'Liberation Sans', sans-serif;font-size:15.70px;font-weight:400;color:#333333;transform:scaleX(1.0500);-webkit-text-stroke:0.35px #333333">3</div><div class="t" style="left:373.5px;top:1173.2px;font-family:'Liberation Sans', sans-serif;font-size:15.70px;font-weight:400;color:#333333;transform:scaleX(1.0500);-webkit-text-stroke:0.35px #333333">4</div><div class="t" style="left:433.0px;top:1173.2px;font-family:'Liberation Sans', sans-serif;font-size:15.70px;font-weight:400;color:#333333;transform:scaleX(1.0500);-webkit-text-stroke:0.35px #333333">5</div><div class="t" style="left:492.4px;top:1176.0px;font-family:'Liberation Sans', sans-serif;font-size:15.70px;font-weight:400;color:#333333;transform:scaleX(1.0500);-webkit-text-stroke:0.35px #333333">6</div><div class="t" style="left:551.9px;top:1173.2px;font-family:'Liberation Sans', sans-serif;font-size:15.70px;font-weight:400;color:#333333;transform:scaleX(1.0500);-webkit-text-stroke:0.35px #333333">7</div><div class="t" style="left:611.4px;top:1173.2px;font-family:'Liberation Sans', sans-serif;font-size:15.70px;font-weight:400;color:#333333;transform:scaleX(1.0500);-webkit-text-stroke:0.35px #333333">8</div><div class="t" style="left:144.8px;top:1226.0px;font-family:'Liberation Sans', sans-serif;font-size:12.80px;font-weight:700;color:#64676e;transform:scaleX(1.0580)">adipiscing elit sed do eiusmod tempor incididunt ut labore</div><div class="t" style="left:717.4px;top:1014.6px;font-family:'Liberation Sans', sans-serif;font-size:57.59px;font-weight:400;color:#45474c;transform:scaleX(1.1096)">957</div><div class="t" style="left:930.0px;top:1014.6px;font-family:'Liberation Sans', sans-serif;font-size:57.59px;font-weight:400;color:#45474c;transform:scaleX(1.0867)">225</div><div class="t" style="left:1139.4px;top:1014.6px;font-family:'Liberation Sans', sans-serif;font-size:57.59px;font-weight:400;color:#45474c;transform:scaleX(1.1190)">570</div><div class="t" style="left:708.0px;top:1088.8px;font-family:'Liberation Sans', sans-serif;font-size:16.33px;font-weight:700;color:#1a2240;transform:scaleX(1.1039)">+35%</div><div class="t" style="left:912.1px;top:1088.8px;font-family:'Liberation Sans', sans-serif;font-size:16.33px;font-weight:700;color:#f5a51f;transform:scaleX(1.0677)">-17%</div><div class="t" style="left:1126.2px;top:1088.8px;font-family:'Liberation Sans', sans-serif;font-size:16.33px;font-weight:700;color:#1a2240;transform:scaleX(1.1916)">+48%</div><div class="t" style="left:782.0px;top:1087.7px;font-family:'Liberation Sans', sans-serif;font-size:10.30px;font-weight:700;color:#6b6e75;transform:scaleX(1.1200)">ut enim</div><div class="t" style="left:777.2px;top:1099.7px;font-family:'Liberation Sans', sans-serif;font-size:10.30px;font-weight:700;color:#6b6e75;transform:scaleX(1.1200)">ad minim</div><div class="t" style="left:782.6px;top:1111.7px;font-family:'Liberation Sans', sans-serif;font-size:10.30px;font-weight:700;color:#6b6e75;transform:scaleX(1.1200)">veniam</div><div class="t" style="left:977.2px;top:1087.7px;font-family:'Liberation Sans', sans-serif;font-size:10.30px;font-weight:700;color:#6b6e75;transform:scaleX(1.1200)">exercitation</div><div class="t" style="left:987.8px;top:1099.7px;font-family:'Liberation Sans', sans-serif;font-size:10.30px;font-weight:700;color:#6b6e75;transform:scaleX(1.1200)">ullamco</div><div class="t" style="left:979.1px;top:1111.7px;font-family:'Liberation Sans', sans-serif;font-size:10.30px;font-weight:700;color:#6b6e75;transform:scaleX(1.1200)">laboris nisi</div><div class="t" style="left:1195.3px;top:1086.9px;font-family:'Liberation Sans', sans-serif;font-size:10.30px;font-weight:700;color:#6b6e75;transform:scaleX(1.1200)">laboris nisi</div><div class="t" style="left:1211.4px;top:1098.9px;font-family:'Liberation Sans', sans-serif;font-size:10.30px;font-weight:700;color:#6b6e75;transform:scaleX(1.1200)">ex ea</div><div class="t" style="left:1198.2px;top:1110.9px;font-family:'Liberation Sans', sans-serif;font-size:10.30px;font-weight:700;color:#6b6e75;transform:scaleX(1.1200)">commodo</div><div class="t" style="left:1442.3px;top:1023.1px;font-family:'Liberation Sans', sans-serif;font-size:35.39px;font-weight:700;color:#0f1012;transform:scaleX(1.0723)">12.364</div><div class="t" style="left:1654.7px;top:1023.1px;font-family:'Liberation Sans', sans-serif;font-size:35.39px;font-weight:700;color:#0f1012;transform:scaleX(1.1231)">5.947</div><div class="t" style="left:1867.3px;top:1023.1px;font-family:'Liberation Sans', sans-serif;font-size:35.39px;font-weight:700;color:#0f1012;transform:scaleX(1.0723)">17.490</div><div class="t" style="left:2076.0px;top:1023.1px;font-family:'Liberation Sans', sans-serif;font-size:35.39px;font-weight:700;color:#0f1012;transform:scaleX(1.0686)">12.364</div><div class="t" style="left:1541.0px;top:1102.5px;font-family:'Liberation Sans', sans-serif;font-size:11.70px;font-weight:700;color:#60636b;transform:scaleX(1.1000)">ut enim</div><div class="t" style="left:1541.0px;top:1115.6px;font-family:'Liberation Sans', sans-serif;font-size:11.70px;font-weight:700;color:#60636b;transform:scaleX(1.1000)">ad minim</div><div class="t" style="left:1541.0px;top:1128.7px;font-family:'Liberation Sans', sans-serif;font-size:11.70px;font-weight:700;color:#60636b;transform:scaleX(1.1000)">veniam</div><div class="t" style="left:1541.0px;top:1141.8px;font-family:'Liberation Sans', sans-serif;font-size:11.70px;font-weight:700;color:#60636b;transform:scaleX(1.1000)">quis nostrud</div><div class="t" style="left:1755.1px;top:1102.5px;font-family:'Liberation Sans', sans-serif;font-size:11.70px;font-weight:700;color:#60636b;transform:scaleX(1.1000)">exercitation</div><div class="t" style="left:1755.1px;top:1115.6px;font-family:'Liberation Sans', sans-serif;font-size:11.70px;font-weight:700;color:#60636b;transform:scaleX(1.1000)">ullamco</div><div class="t" style="left:1755.1px;top:1128.7px;font-family:'Liberation Sans', sans-serif;font-size:11.70px;font-weight:700;color:#60636b;transform:scaleX(1.1000)">laboris nisi</div><div class="t" style="left:1755.1px;top:1141.8px;font-family:'Liberation Sans', sans-serif;font-size:11.70px;font-weight:700;color:#60636b;transform:scaleX(1.1000)">ut aliquip</div><div class="t" style="left:1970.7px;top:1101.5px;font-family:'Liberation Sans', sans-serif;font-size:11.70px;font-weight:700;color:#60636b;transform:scaleX(1.1000)">laboris nisi</div><div class="t" style="left:1970.7px;top:1114.6px;font-family:'Liberation Sans', sans-serif;font-size:11.70px;font-weight:700;color:#60636b;transform:scaleX(1.1000)">ex ea</div><div class="t" style="left:1970.7px;top:1127.7px;font-family:'Liberation Sans', sans-serif;font-size:11.70px;font-weight:700;color:#60636b;transform:scaleX(1.1000)">commodo</div><div class="t" style="left:1970.7px;top:1140.8px;font-family:'Liberation Sans', sans-serif;font-size:11.70px;font-weight:700;color:#60636b;transform:scaleX(1.1000)">consequat</div><div class="t" style="left:2174.7px;top:1101.5px;font-family:'Liberation Sans', sans-serif;font-size:11.70px;font-weight:700;color:#60636b;transform:scaleX(1.1000)">ut enim</div><div class="t" style="left:2174.7px;top:1114.6px;font-family:'Liberation Sans', sans-serif;font-size:11.70px;font-weight:700;color:#60636b;transform:scaleX(1.1000)">ad minim</div><div class="t" style="left:2174.7px;top:1127.7px;font-family:'Liberation Sans', sans-serif;font-size:11.70px;font-weight:700;color:#60636b;transform:scaleX(1.1000)">veniam</div><div class="t" style="left:2174.7px;top:1140.8px;font-family:'Liberation Sans', sans-serif;font-size:11.70px;font-weight:700;color:#60636b;transform:scaleX(1.1000)">quis nostrud</div>
</body></html>
